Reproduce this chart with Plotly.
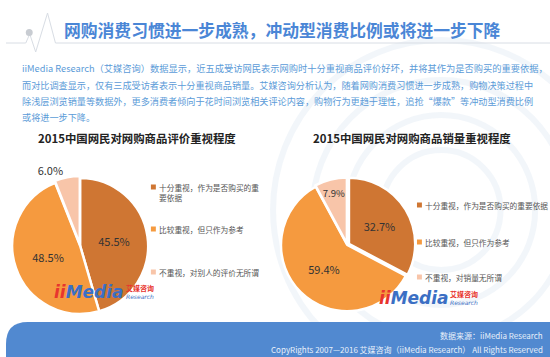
import plotly.graph_objects as go

W, H = 550, 357

page_title = "网购消费习惯进一步成熟，冲动型消费比例或将进一步下降"
paragraph = [
    "iiMedia Research（艾媒咨询）数据显示，近五成受访网民表示网购时十分重视商品评价好坏，并将其作为是否购买的重要依据，",
    "而对比调查显示，仅有三成受访者表示十分重视商品销量。艾媒咨询分析认为，随着网购消费习惯进一步成熟，购物决策过程中",
    "除浅层浏览销量等数据外，更多消费者倾向于花时间浏览相关评论内容，购物行为更趋于理性，追抢“爆款”等冲动型消费比例",
    "或将进一步下降。",
]

left_title = "2015中国网民对网购商品评价重视程度"
left_labels = ["十分重视，作为是否购买的重<br>要依据", "比较重视，但只作为参考", "不重视，对别人的评价无所谓"]
left_values = [45.5, 48.5, 6.0]

right_title = "2015中国网民对网购商品销量重视程度"
right_labels = ["十分重视，作为是否购买的重要依据", "比较重视，但只作为参考", "不重视，对销量无所谓"]
right_values = [32.7, 59.4, 7.9]

colors = ["#cf7633", "#f59a3f", "#f8c5a9"]

source_text = "数据来源：iiMedia Research"
copyright_text = "CopyRights 2007—2016 艾媒咨询（iiMedia Research） All Rights Reserved"

FONT = "Noto Sans CJK SC"

def px(x):
    return x / W

def py(y):
    return 1 - y / H

fig = go.Figure()

def add_pie(values, labels, x0, x1, y0, y1, pull, textpos):
    fig.add_trace(go.Pie(
        values=values,
        labels=labels,
        sort=False,
        direction="clockwise",
        rotation=0,
        marker=dict(colors=colors, line=dict(color="white", width=2.5)),
        pull=pull,
        texttemplate="%{value:.1f}%",
        textposition=textpos,
        insidetextorientation="horizontal",
        textfont=dict(family=FONT, size=11, color="#333333"),
        outsidetextfont=dict(family=FONT, size=11, color="#333333"),
        showlegend=False,
        hoverinfo="skip",
        domain=dict(x=[px(x0), px(x1)], y=[py(y1), py(y0)]),
    ))

add_pie(left_values, left_labels, 3, 147, 176, 316, [0, 0, 0.03], ["inside", "inside", "outside"])
add_pie(right_values, right_labels, 276, 414, 176, 314, [0.03, 0, 0.02], ["inside", "inside", "inside"])

shapes = []
annotations = []

# faint background watermark circles
for r in [60, 95, 130, 170]:
    shapes.append(dict(type="circle", xref="paper", yref="paper",
                       x0=px(440 - r), x1=px(440 + r), y0=py(210 + r), y1=py(210 - r),
                       line=dict(color="rgba(205,218,236,0.25)", width=6), layer="below"))

# heartbeat header line
shapes.append(dict(type="path", xref="paper", yref="paper",
                   path=" ".join([
                       f"M {px(0)} {py(43)}", f"L {px(20)} {py(43)}", f"L {px(24)} {py(34)}",
                       f"L {px(30)} {py(52)}", f"L {px(42)} {py(13)}", f"L {px(50)} {py(43)}",
                       f"L {px(550)} {py(43)}"]),
                   line=dict(color="#d8dde4", width=1)))
shapes.append(dict(type="circle", xref="paper", yref="paper",
                   x0=px(20), x1=px(27), y0=py(36), y1=py(29),
                   fillcolor="#c8ccd2", line=dict(width=0)))

# footer band with rounded top-left corner
r = 22
fy0, fy1 = 322, 357
shapes.append(dict(type="path", xref="paper", yref="paper",
                   path=(f"M {px(0)} {py(fy1)} L {px(0)} {py(fy0 + r)} "
                         f"Q {px(0)} {py(fy0)} {px(r)} {py(fy0)} "
                         f"L {px(550)} {py(fy0)} L {px(550)} {py(fy1)} Z"),
                   fillcolor="#5189d0", line=dict(width=0)))

# header title
annotations.append(dict(text=f"<b>{page_title}</b>", x=px(57), y=py(30), xref="paper", yref="paper",
                        xanchor="left", yanchor="middle", showarrow=False,
                        font=dict(family=FONT, size=16.8, color="#4a86d6")))

# paragraph
para_y = [68, 85, 101, 117]
para_size = [9.25, 9.15, 9.15, 9.15]
for line, yy, fs in zip(paragraph, para_y, para_size):
    annotations.append(dict(text=line, x=px(14), y=py(yy), xref="paper", yref="paper",
                            xanchor="left", yanchor="middle", showarrow=False,
                            font=dict(family=FONT, size=fs, color="#5b9bd8")))

# pie titles
for t, cx in [(left_title, 132), (right_title, 410)]:
    annotations.append(dict(text=f"<b>{t}</b>", x=px(cx), y=py(138), xref="paper", yref="paper",
                            xanchor="center", yanchor="middle", showarrow=False,
                            font=dict(family=FONT, size=11.4, color="#222222")))

# legends
def add_legend(labels, x, ys, ty):
    for lab, c, yy, tyy in zip(labels, colors, ys, ty):
        shapes.append(dict(type="rect", xref="paper", yref="paper",
                           x0=px(x - 2.5), x1=px(x + 2.5), y0=py(yy + 2.5), y1=py(yy - 2.5),
                           fillcolor=c, line=dict(width=0)))
        annotations.append(dict(text=lab, x=px(x + 4), y=py(tyy), xref="paper", yref="paper",
                                xanchor="left", yanchor="top", showarrow=False, align="left",
                                font=dict(family=FONT, size=7.7, color="#555555")))

add_legend(left_labels, 149, [187, 229, 272], [180, 222, 265])
add_legend(right_labels, 418, [205, 242, 277], [198, 235, 270])

# logos
for lx, ly in [(47, 292), (375, 298)]:
    annotations.append(dict(text="<b><i><span style='color:#e8352e'>ii</span>Media</i></b>",
                            x=px(lx), y=py(ly), xref="paper", yref="paper",
                            xanchor="left", yanchor="middle", showarrow=False,
                            font=dict(family="DejaVu Sans", size=17, color="#3b6fc4")))
    annotations.append(dict(text="<b>艾媒咨询</b>", x=px(lx + 72), y=py(ly - 4), xref="paper", yref="paper",
                            xanchor="left", yanchor="middle", showarrow=False,
                            font=dict(family=FONT, size=7, color="#e8352e")))
    annotations.append(dict(text="<i>Research</i>", x=px(lx + 72), y=py(ly + 4), xref="paper", yref="paper",
                            xanchor="left", yanchor="middle", showarrow=False,
                            font=dict(family="DejaVu Sans", size=6, color="#3b6fc4")))

# footer text
annotations.append(dict(text=source_text, x=px(545), y=py(335), xref="paper", yref="paper",
                        xanchor="right", yanchor="middle", showarrow=False,
                        font=dict(family=FONT, size=8, color="#e8f0fa")))
annotations.append(dict(text=copyright_text, x=px(545), y=py(349), xref="paper", yref="paper",
                        xanchor="right", yanchor="middle", showarrow=False,
                        font=dict(family=FONT, size=8, color="#e8f0fa")))

fig.update_layout(
    width=W, height=H,
    margin=dict(l=0, r=0, t=0, b=0),
    paper_bgcolor="white",
    plot_bgcolor="white",
    shapes=shapes,
    annotations=annotations,
)

fig.write_html("out.html", config={"displayModeBar": False},
               post_script="document.body.style.margin='0';document.body.style.overflow='hidden';")
